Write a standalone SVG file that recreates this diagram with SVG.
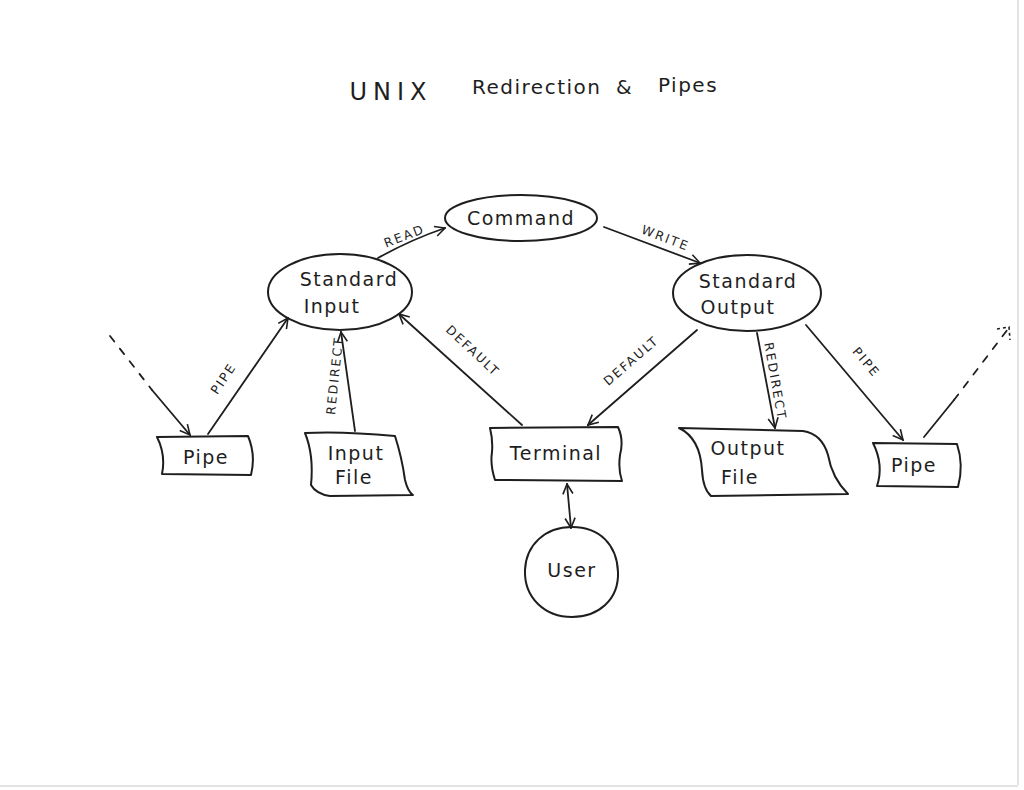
<svg xmlns="http://www.w3.org/2000/svg" width="1024" height="790" viewBox="0 0 1024 790">
<defs>
<style>
.shape{fill:none;stroke:#1e1e1e;stroke-width:2;stroke-linejoin:round;stroke-linecap:round}
.edge{fill:none;stroke:#1e1e1e;stroke-width:1.8;stroke-linecap:round}
.dash{stroke-dasharray:7 9}
.t{font-family:"DejaVu Sans","Liberation Sans",sans-serif;fill:#1e1e1e;text-anchor:middle;font-weight:normal}
.node{font-size:19px;letter-spacing:1.5px}
.lbl{font-size:12.5px;letter-spacing:2px}
.ttl{font-size:20px;letter-spacing:1.5px;text-anchor:start}
</style>
<marker id="arr" viewBox="0 0 12 12" refX="11" refY="6" markerWidth="12" markerHeight="12" markerUnits="userSpaceOnUse" orient="auto-start-reverse">
<path d="M1,1 L11,6 L1,11" fill="none" stroke="#1e1e1e" stroke-width="1.6"/>
</marker>
</defs>
<rect width="1024" height="790" fill="#ffffff"/>
<line x1="1018" y1="0" x2="1018" y2="785" stroke="#c8c8c8" stroke-width="1"/>
<line x1="0" y1="786" x2="1018" y2="786" stroke="#c8c8c8" stroke-width="1"/>

<g id="title">
<text class="t" x="391" y="100" font-size="24" letter-spacing="6">UNIX</text>
<text class="t ttl" x="472" y="94">Redirection</text>
<text class="t ttl" x="616" y="94">&amp;</text>
<text class="t ttl" x="658" y="92" letter-spacing="3">Pipes</text>
</g>

<g id="connectors">
<path class="edge" d="M378,258 Q410,240 445,228" marker-end="url(#arr)"/>
<text class="t lbl" transform="translate(406,240) rotate(-21)">READ</text>
<path class="edge" d="M604,227 L700,263" marker-end="url(#arr)"/>
<text class="t lbl" transform="translate(664,242) rotate(21)">WRITE</text>
<path class="edge dash" d="M110,336 L152,390"/>
<path class="edge" d="M152,390 L190,435" marker-end="url(#arr)"/>
<path class="edge" d="M208,434 L288,318" marker-end="url(#arr)"/>
<text class="t lbl" transform="translate(227,381) rotate(-56)">PIPE</text>
<path class="edge" d="M355,431 L341,332" marker-end="url(#arr)"/>
<text class="t lbl" transform="translate(339,376) rotate(-84)">REDIRECT</text>
<path class="edge" d="M522,425 L399,314" marker-end="url(#arr)"/>
<text class="t lbl" transform="translate(470,354) rotate(43)">DEFAULT</text>
<path class="edge" d="M697,330 L588,425" marker-end="url(#arr)"/>
<text class="t lbl" transform="translate(634,364) rotate(-41)">DEFAULT</text>
<path class="edge" d="M757,333 L775,428" marker-end="url(#arr)"/>
<text class="t lbl" transform="translate(771,382) rotate(80)">REDIRECT</text>
<path class="edge" d="M806,325 L903,440" marker-end="url(#arr)"/>
<text class="t lbl" transform="translate(863,365) rotate(50)">PIPE</text>
<path class="edge" d="M924,437 L954,400"/>
<path class="edge dash" d="M954,400 L1008,329" stroke-dasharray="5 8"/>
<path d="M997,329 L1009,327 L1010,340" fill="none" stroke="#1e1e1e" stroke-width="1.6" stroke-dasharray="3 3"/>
<path class="edge" d="M567,484 L571,528" marker-start="url(#arr)" marker-end="url(#arr)"/>
</g>

<g id="command">
<ellipse class="shape" cx="521" cy="218" rx="76" ry="23"/>
<text class="t node" x="521" y="225">Command</text>
</g>

<g id="stdin">
<ellipse class="shape" cx="340" cy="292" rx="72" ry="38"/>
<text class="t node" x="349" y="286">Standard</text>
<text class="t node" x="332" y="313">Input</text>
</g>

<g id="stdout">
<ellipse class="shape" cx="747" cy="293" rx="74" ry="38"/>
<text class="t node" x="748" y="288">Standard</text>
<text class="t node" x="738" y="314">Output</text>
</g>

<g id="pipe-left">
<path class="shape" d="M157,437 L248,436 Q256,455 251,475 L162,474 Q166,455 157,437 Z"/>
<text class="t node" x="206" y="464">Pipe</text>
</g>

<g id="input-file">
<path class="shape" d="M305,433 Q342,431 395,436 Q402,458 405,480 Q408,492 413,495 L330,496 Q316,494 311,485 Q314,455 305,433 Z"/>
<text class="t node" x="356" y="460">Input</text>
<text class="t node" x="354" y="484">File</text>
</g>

<g id="terminal">
<path class="shape" d="M490,428 L618,427 Q624,440 620,455 Q618,470 622,481 L495,480 Q490,465 492,452 Q493,440 490,428 Z"/>
<text class="t node" x="556" y="460">Terminal</text>
</g>

<g id="output-file">
<path class="shape" d="M679,428 L803,431 Q822,434 828,455 Q832,478 848,494 L711,496 Q703,489 702,470 Q700,438 679,428 Z"/>
<text class="t node" x="748" y="455">Output</text>
<text class="t node" x="740" y="484">File</text>
</g>

<g id="pipe-right">
<path class="shape" d="M873,443 L957,444 Q964,465 958,487 L877,486 Q884,465 873,443 Z"/>
<text class="t node" x="914" y="472">Pipe</text>
</g>

<g id="user">
<path class="shape" d="M572,527 C600,527 617,545 618,572 C619,600 598,617 572,617 C545,617 524,598 525,570 C526,545 545,527 572,527 Z"/>
<text class="t node" x="572" y="577">User</text>
</g>
</svg>
